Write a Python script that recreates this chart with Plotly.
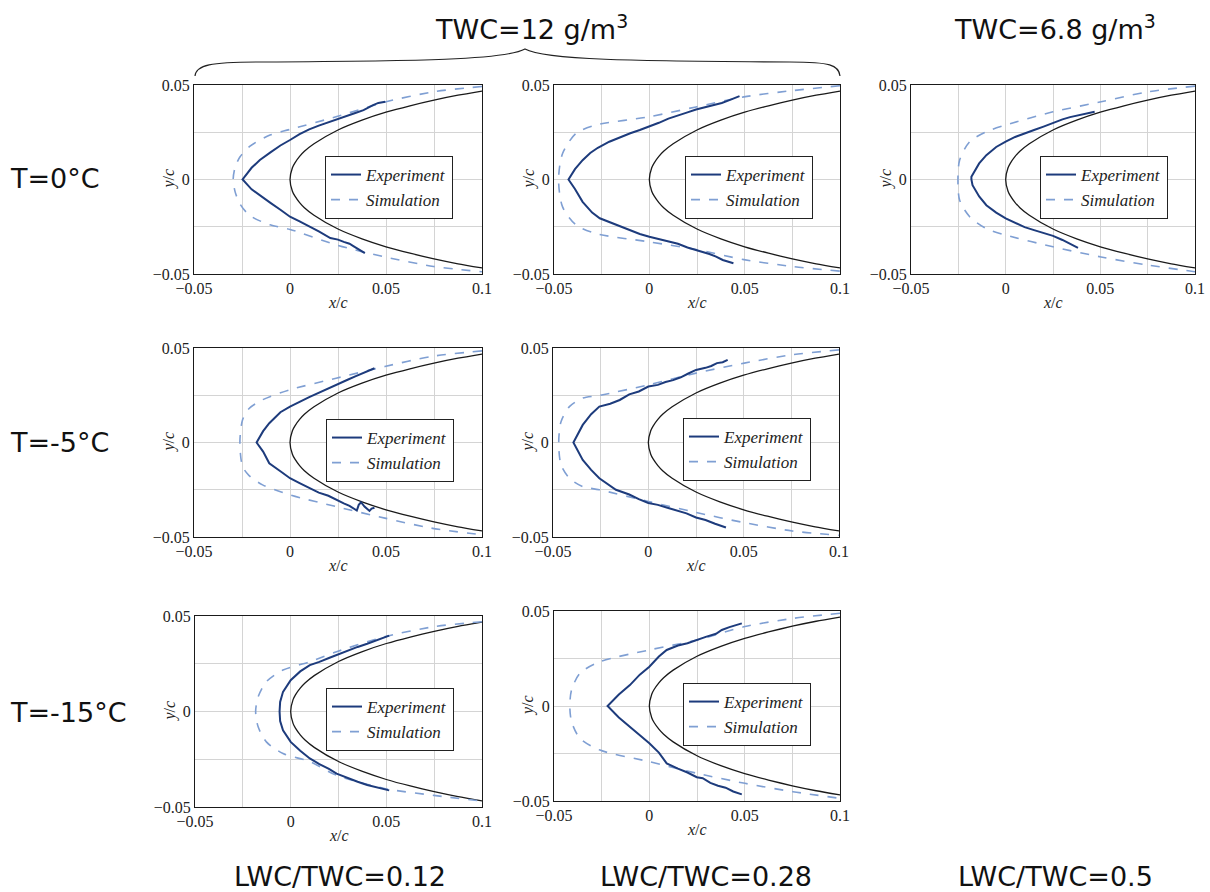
import plotly.graph_objects as go

W, H = 1210, 892

# ---------------- data ----------------
# airfoil leading-edge contour (upper surface)
AIRFOIL_X = [0.0, 0.00125, 0.0025, 0.005, 0.0075, 0.0125, 0.025, 0.0375, 0.05, 0.0625, 0.075, 0.0875, 0.1]
AIRFOIL_Y = [0.0, 0.0062, 0.0087, 0.0122, 0.0149, 0.0189, 0.0262, 0.0314, 0.0356, 0.0390, 0.0420, 0.0446, 0.0468]

# Panel T=0, LWC/TWC=0.12
EXP_T0_012_X = [0.0496, 0.046, 0.043, 0.040, 0.0383, 0.034, 0.030, 0.027, 0.0244, 0.020, 0.015, 0.010, 0.005, 0.0,
                -0.005, -0.010, -0.0157, -0.020, -0.0247,
                -0.020, -0.015, -0.010, -0.005, 0.0, 0.005, 0.010, 0.015, 0.021, 0.025, 0.028, 0.031, 0.033, 0.036, 0.039]
EXP_T0_012_Y = [0.0411, 0.0405, 0.0392, 0.0378, 0.0367, 0.0352, 0.0338, 0.0330, 0.0318, 0.0303, 0.0285, 0.0265, 0.0240, 0.0209,
                0.0180, 0.0145, 0.0103, 0.0062, 0.0,
                -0.0052, -0.0090, -0.0125, -0.0160, -0.0197, -0.0222, -0.0248, -0.0275, -0.0310, -0.0318, -0.0330, -0.0340, -0.0352, -0.0372, -0.0390]
SIM_T0_012_X = [0.1, 0.0748, 0.0496, 0.0244, 0.0, -0.0104, -0.021, -0.026, -0.0285, -0.0296,
                -0.0285, -0.026, -0.021, -0.0104, 0.0, 0.0244, 0.0496, 0.0748, 0.1]
SIM_T0_012_Y = [0.0492, 0.0464, 0.0410, 0.0333, 0.0265, 0.0235, 0.0175, 0.0120, 0.0068, 0.0,
                -0.0068, -0.0130, -0.0190, -0.0240, -0.0264, -0.0347, -0.0410, -0.0460, -0.0488]

# Panel T=0, LWC/TWC=0.28
EXP_T0_028_X = [0.0473, 0.045, 0.042, 0.038, 0.035, 0.030, 0.0245, 0.020, 0.015, 0.010, 0.005, 0.0, -0.005, -0.010, -0.015,
                -0.021, -0.027, -0.031, -0.035, -0.039, -0.0424,
                -0.039, -0.035, -0.030, -0.026, -0.021, -0.015, -0.010, -0.005, 0.0, 0.005, 0.010, 0.015, 0.020, 0.0245,
                0.028, 0.0315, 0.035, 0.0385, 0.0441]
EXP_T0_028_Y = [0.0441, 0.0430, 0.0420, 0.0405, 0.0398, 0.0385, 0.0370, 0.0355, 0.0340, 0.0322, 0.0300, 0.0279, 0.0262, 0.0245, 0.0225,
                0.0200, 0.0168, 0.0140, 0.0102, 0.0055, 0.0,
                -0.0050, -0.0118, -0.0175, -0.0205, -0.0224, -0.0250, -0.0270, -0.0288, -0.0303, -0.0315, -0.0325, -0.0340, -0.0360, -0.0372,
                -0.0382, -0.0394, -0.0408, -0.0426, -0.0443]
SIM_T0_028_X = [0.1, 0.0748, 0.0496, 0.0245, 0.0, -0.028, -0.0385, -0.0455, -0.0476,
                -0.0455, -0.0385, -0.028, 0.0, 0.0245, 0.0496, 0.0748, 0.1]
SIM_T0_028_Y = [0.0496, 0.0470, 0.0437, 0.0384, 0.0332, 0.0288, 0.0243, 0.0138, 0.0,
                -0.0145, -0.0240, -0.0286, -0.0330, -0.0370, -0.0424, -0.0460, -0.0485]

# Panel T=0, TWC=6.8, LWC/TWC=0.5
EXP_T0_05_X = [0.047, 0.044, 0.041, 0.038, 0.034, 0.030, 0.025, 0.020, 0.015, 0.010, 0.005, 0.0, -0.005, -0.0102, -0.014,
               -0.0181, -0.0181,
               -0.0175, -0.014, -0.0102, -0.005, 0.0, 0.005, 0.010, 0.015, 0.020, 0.025, 0.030, 0.034, 0.0382]
EXP_T0_05_Y = [0.0358, 0.0352, 0.0345, 0.0338, 0.0330, 0.0318, 0.0297, 0.0280, 0.0262, 0.0245, 0.0225, 0.0200, 0.0172, 0.0129, 0.0085,
               0.0015, 0.0,
               -0.0030, -0.0090, -0.0136, -0.0175, -0.0206, -0.0230, -0.0252, -0.0268, -0.0285, -0.0298, -0.0320, -0.0340, -0.0362]
SIM_T0_05_X = [0.1, 0.0753, 0.0504, 0.025, 0.0, -0.0102, -0.019, -0.0243, -0.0252,
               -0.0243, -0.019, -0.0102, 0.0, 0.025, 0.0504, 0.0753, 0.1]
SIM_T0_05_Y = [0.0494, 0.0464, 0.0411, 0.0358, 0.0288, 0.0253, 0.0200, 0.0103, 0.0,
               -0.0110, -0.0197, -0.0260, -0.0294, -0.0356, -0.0410, -0.0453, -0.0488]

# Panel T=-5, LWC/TWC=0.12
EXP_T5_012_X = [0.044, 0.042, 0.040, 0.037, 0.034, 0.030, 0.024, 0.020, 0.015, 0.010, 0.005, 0.0, -0.005, -0.0108, -0.014, -0.0174,
                -0.014, -0.0108, -0.005, 0.0, 0.005, 0.010, 0.015, 0.020, 0.024, 0.028, 0.031, 0.0348, 0.0358, 0.037, 0.0388,
                0.0414, 0.0425, 0.044]
EXP_T5_012_Y = [0.0393, 0.0385, 0.0375, 0.0365, 0.0350, 0.0332, 0.0305, 0.0285, 0.0262, 0.0240, 0.0215, 0.0190, 0.0160, 0.0102, 0.0060, 0.0,
                -0.0048, -0.0110, -0.0152, -0.0189, -0.0215, -0.0240, -0.0265, -0.0282, -0.0303, -0.0322, -0.0335, -0.0360, -0.0330, -0.0316, -0.0339,
                -0.0362, -0.0350, -0.0345]
SIM_T5_012_X = [0.1, 0.0736, 0.0494, 0.024, 0.0, -0.0143, -0.0213, -0.0247, -0.0261,
                -0.0247, -0.0213, -0.0143, 0.0, 0.024, 0.0494, 0.0736, 0.1]
SIM_T5_012_Y = [0.0485, 0.0455, 0.0402, 0.0340, 0.0279, 0.0226, 0.0180, 0.0120, 0.0,
                -0.0127, -0.0175, -0.0224, -0.0277, -0.0339, -0.0400, -0.0453, -0.0488]

# Panel T=-5, LWC/TWC=0.28
EXP_T5_028_X = [0.0416, 0.039, 0.036, 0.033, 0.030, 0.025, 0.021, 0.017, 0.013, 0.009, 0.005, 0.0, -0.005, -0.010, -0.015,
                -0.020, -0.0257, -0.030, -0.0344, -0.0393,
                -0.0344, -0.030, -0.0257, -0.020, -0.017, -0.010, -0.005, 0.0, 0.005, 0.010, 0.015, 0.020, 0.025, 0.030, 0.035, 0.0407]
EXP_T5_028_Y = [0.0437, 0.0425, 0.0420, 0.0405, 0.0395, 0.0384, 0.0365, 0.0345, 0.0330, 0.0320, 0.0305, 0.0296, 0.0270, 0.0255, 0.0225,
                0.0205, 0.0190, 0.0150, 0.0093, 0.0,
                -0.0092, -0.0145, -0.0189, -0.0232, -0.0250, -0.0275, -0.0300, -0.0320, -0.0330, -0.0345, -0.0360, -0.0375, -0.0397, -0.0410, -0.0430, -0.0450]
SIM_T5_028_X = [0.1, 0.0755, 0.0503, 0.025, 0.0, -0.0257, -0.0344, -0.0414, -0.0458, -0.047,
                -0.0458, -0.0414, -0.0344, -0.0257, 0.0, 0.025, 0.0503, 0.0755, 0.1]
SIM_T5_028_Y = [0.0490, 0.0464, 0.0420, 0.0367, 0.0305, 0.0249, 0.0235, 0.0190, 0.0110, 0.0,
                -0.0118, -0.0189, -0.0233, -0.0250, -0.0312, -0.0370, -0.0424, -0.0468, -0.0491]

# Panel T=-15, LWC/TWC=0.12
EXP_T15_012_X = [0.0515, 0.045, 0.040, 0.035, 0.030, 0.024, 0.020, 0.015, 0.010, 0.005, 0.0, -0.004, -0.0055, -0.0058,
                 -0.0055, -0.004, 0.0, 0.005, 0.010, 0.015, 0.020, 0.024, 0.030, 0.035, 0.040, 0.045, 0.0515]
EXP_T15_012_Y = [0.0397, 0.0372, 0.0355, 0.0338, 0.0320, 0.0295, 0.0280, 0.0260, 0.0243, 0.0210, 0.0164, 0.0103, 0.0050, 0.0,
                 -0.0050, -0.0098, -0.0159, -0.0205, -0.0246, -0.0275, -0.0300, -0.0325, -0.0350, -0.0368, -0.0385, -0.0398, -0.0413]
SIM_T15_012_X = [0.1, 0.0748, 0.0495, 0.024, 0.010, -0.004, -0.0127, -0.017, -0.0183,
                 -0.017, -0.0127, -0.004, 0.010, 0.024, 0.0495, 0.0748, 0.1]
SIM_T15_012_Y = [0.0470, 0.0444, 0.0392, 0.0313, 0.0260, 0.0217, 0.0156, 0.0077, 0.0,
                 -0.0080, -0.0159, -0.0220, -0.0262, -0.0334, -0.0404, -0.0439, -0.0469]

# Panel T=-15, LWC/TWC=0.28
EXP_T15_028_X = [0.0485, 0.045, 0.042, 0.038, 0.035, 0.030, 0.0249, 0.020, 0.015, 0.0091, 0.005, 0.0, -0.005, -0.0102, -0.016, -0.0219,
                 -0.016, -0.0102, -0.005, 0.0, 0.005, 0.0091, 0.015, 0.020, 0.0249, 0.028, 0.032, 0.036, 0.040, 0.044, 0.0485]
EXP_T15_028_Y = [0.0435, 0.0425, 0.0415, 0.0400, 0.0380, 0.0365, 0.0347, 0.0330, 0.0318, 0.0295, 0.0260, 0.0207, 0.0165, 0.0110, 0.0060, 0.0,
                 -0.0060, -0.0109, -0.0150, -0.0196, -0.0245, -0.0302, -0.0330, -0.0350, -0.0375, -0.0380, -0.0405, -0.0420, -0.0430, -0.0450, -0.0465]
SIM_T15_028_X = [0.1, 0.0753, 0.0501, 0.0249, 0.0, -0.0259, -0.0364, -0.0408, -0.0417,
                 -0.0408, -0.0364, -0.0259, 0.0, 0.0249, 0.0501, 0.0753, 0.1]
SIM_T15_028_Y = [0.0488, 0.0461, 0.0418, 0.0347, 0.0295, 0.0233, 0.0172, 0.0084, 0.0,
                 -0.0082, -0.0170, -0.0232, -0.0293, -0.0354, -0.0407, -0.0451, -0.0486]

X_TICKS = [-0.05, -0.025, 0.0, 0.025, 0.05, 0.075, 0.1]
X_TICK_TEXT = ["\u22120.05", "", "0", "", "0.05", "", "0.1"]
Y_TICKS = [-0.05, -0.025, 0.0, 0.025, 0.05]
Y_TICK_TEXT = ["\u22120.05", "", "0", "", "0.05"]

ROW_LABELS = ["T=0°C", "T=-5°C", "T=-15°C"]
COL_LABELS = ["LWC/TWC=0.12", "LWC/TWC=0.28", "LWC/TWC=0.5"]
TOP_LABELS = ["TWC=12 g/m<sup>3</sup>", "TWC=6.8 g/m<sup>3</sup>"]

# ---------------- layout geometry (pixels) ----------------
PANELS = [
    dict(box=(194, 482, 85, 274), leg=(325, 156), exp=(EXP_T0_012_X, EXP_T0_012_Y), sim=(SIM_T0_012_X, SIM_T0_012_Y)),
    dict(box=(554, 840, 85, 274), leg=(685, 156), exp=(EXP_T0_028_X, EXP_T0_028_Y), sim=(SIM_T0_028_X, SIM_T0_028_Y)),
    dict(box=(911, 1195, 85, 274), leg=(1040, 156), exp=(EXP_T0_05_X, EXP_T0_05_Y), sim=(SIM_T0_05_X, SIM_T0_05_Y)),
    dict(box=(194, 482, 348, 537), leg=(326, 419), exp=(EXP_T5_012_X, EXP_T5_012_Y), sim=(SIM_T5_012_X, SIM_T5_012_Y)),
    dict(box=(553, 839, 348, 537), leg=(683, 418), exp=(EXP_T5_028_X, EXP_T5_028_Y), sim=(SIM_T5_028_X, SIM_T5_028_Y)),
    dict(box=(195, 482, 616, 807), leg=(326, 688), exp=(EXP_T15_012_X, EXP_T15_012_Y), sim=(SIM_T15_012_X, SIM_T15_012_Y)),
    dict(box=(554, 840, 611, 801), leg=(683, 683), exp=(EXP_T15_028_X, EXP_T15_028_Y), sim=(SIM_T15_028_X, SIM_T15_028_Y)),
]


def px(x):
    return x / W


def py(y):
    return 1 - y / H


EXP_COLOR = "#1d3b7c"
SIM_COLOR = "#7f9fd3"
SERIF = "Liberation Serif"
SANS = "DejaVu Sans"

foil_x = AIRFOIL_X[::-1] + AIRFOIL_X[1:]
foil_y = AIRFOIL_Y[::-1] + [-v for v in AIRFOIL_Y[1:]]

fig = go.Figure()
layout = dict(
    width=W, height=H, autosize=False,
    margin=dict(l=0, r=0, t=0, b=0),
    paper_bgcolor="white", plot_bgcolor="white",
    showlegend=True,
)
annotations = []


def note(x, y, text, size, family, angle=0, xanchor="center", color="#111"):
    annotations.append(dict(x=px(x), y=py(y), xref="paper", yref="paper", xanchor=xanchor, yanchor="middle",
                            text=text, showarrow=False, textangle=angle,
                            font=dict(family=family, size=size, color=color)))


for i, p in enumerate(PANELS):
    n = "" if i == 0 else str(i + 1)
    xa, ya = "x" + n, "y" + n
    leg = "legend" + n
    l, r, t, b = p["box"]
    fig.add_trace(go.Scatter(x=foil_x, y=foil_y, mode="lines", xaxis=xa, yaxis=ya,
                             line=dict(color="#1a1a1a", width=1.3, shape="spline", smoothing=0.6),
                             showlegend=False, hoverinfo="skip"))
    fig.add_trace(go.Scatter(x=p["sim"][0], y=p["sim"][1], mode="lines", xaxis=xa, yaxis=ya,
                             name="<i>Simulation</i>", legend=leg, legendrank=2,
                             line=dict(color=SIM_COLOR, width=1.6, dash="dash", shape="spline", smoothing=0.8)))
    fig.add_trace(go.Scatter(x=p["exp"][0], y=p["exp"][1], mode="lines", xaxis=xa, yaxis=ya,
                             name="<i>Experiment</i>", legend=leg, legendrank=1,
                             line=dict(color=EXP_COLOR, width=2)))
    common = dict(showline=True, mirror=True, linecolor="#1a1a1a", linewidth=1,
                  showgrid=True, gridcolor="#d4d4d4", gridwidth=1, zeroline=False,
                  ticks="", automargin=False,
                  tickfont=dict(family=SERIF, size=16, color="#222"))
    layout["xaxis" + n] = dict(common, domain=[px(l), px(r)], range=[-0.05, 0.1], anchor=ya,
                               tickvals=X_TICKS, ticktext=X_TICK_TEXT)
    layout["yaxis" + n] = dict(common, domain=[py(b), py(t)], range=[-0.05, 0.05], anchor=xa,
                               tickvals=Y_TICKS, ticktext=Y_TICK_TEXT)
    lx, ly = p["leg"]
    layout[leg] = dict(x=px(lx), y=py(ly), xanchor="left", yanchor="top", xref="paper", yref="paper",
                       bgcolor="white", bordercolor="#222", borderwidth=1,
                       font=dict(family=SERIF, size=17, color="#222"),
                       tracegroupgap=0, itemwidth=30)
    note((l + r) / 2, b + 28, "<i>x</i>/<i>c</i>", 16, SERIF, color="#222")
    note(l - 26, (t + b) / 2, "<i>y</i>/<i>c</i>", 16, SERIF, angle=-90, color="#222")

for lab, yy in zip(ROW_LABELS, [178, 442, 712]):
    note(8, yy, lab, 27, SANS, xanchor="left")
for lab, xx in zip(COL_LABELS, [340, 706, 1055]):
    note(xx, 876, lab, 27, SANS)
for lab, xx in zip(TOP_LABELS, [531, 1055]):
    note(xx, 27, lab, 27, SANS)

layout["annotations"] = annotations

# curly brace above first two columns
pts = [(195, 76), (196, 65), (210, 62), (260, 62), (420, 61), (505, 60), (525, 49),
       (545, 60), (630, 61), (790, 62), (830, 62), (839, 65), (840, 76)]
P = [f"{px(a):.5f},{py(b):.5f}" for a, b in pts]
path = f"M {P[0]} C {P[1]} {P[2]} {P[3]} C {P[4]} {P[5]} {P[6]} C {P[7]} {P[8]} {P[9]} C {P[10]} {P[11]} {P[12]}"
layout["shapes"] = [dict(type="path", path=path, xref="paper", yref="paper",
                         line=dict(color="#222", width=1.2))]

fig.update_layout(**layout)
fig.write_html("out.html", config={"displayModeBar": False},
               post_script="document.body.style.margin='0';document.body.style.padding='0';")
